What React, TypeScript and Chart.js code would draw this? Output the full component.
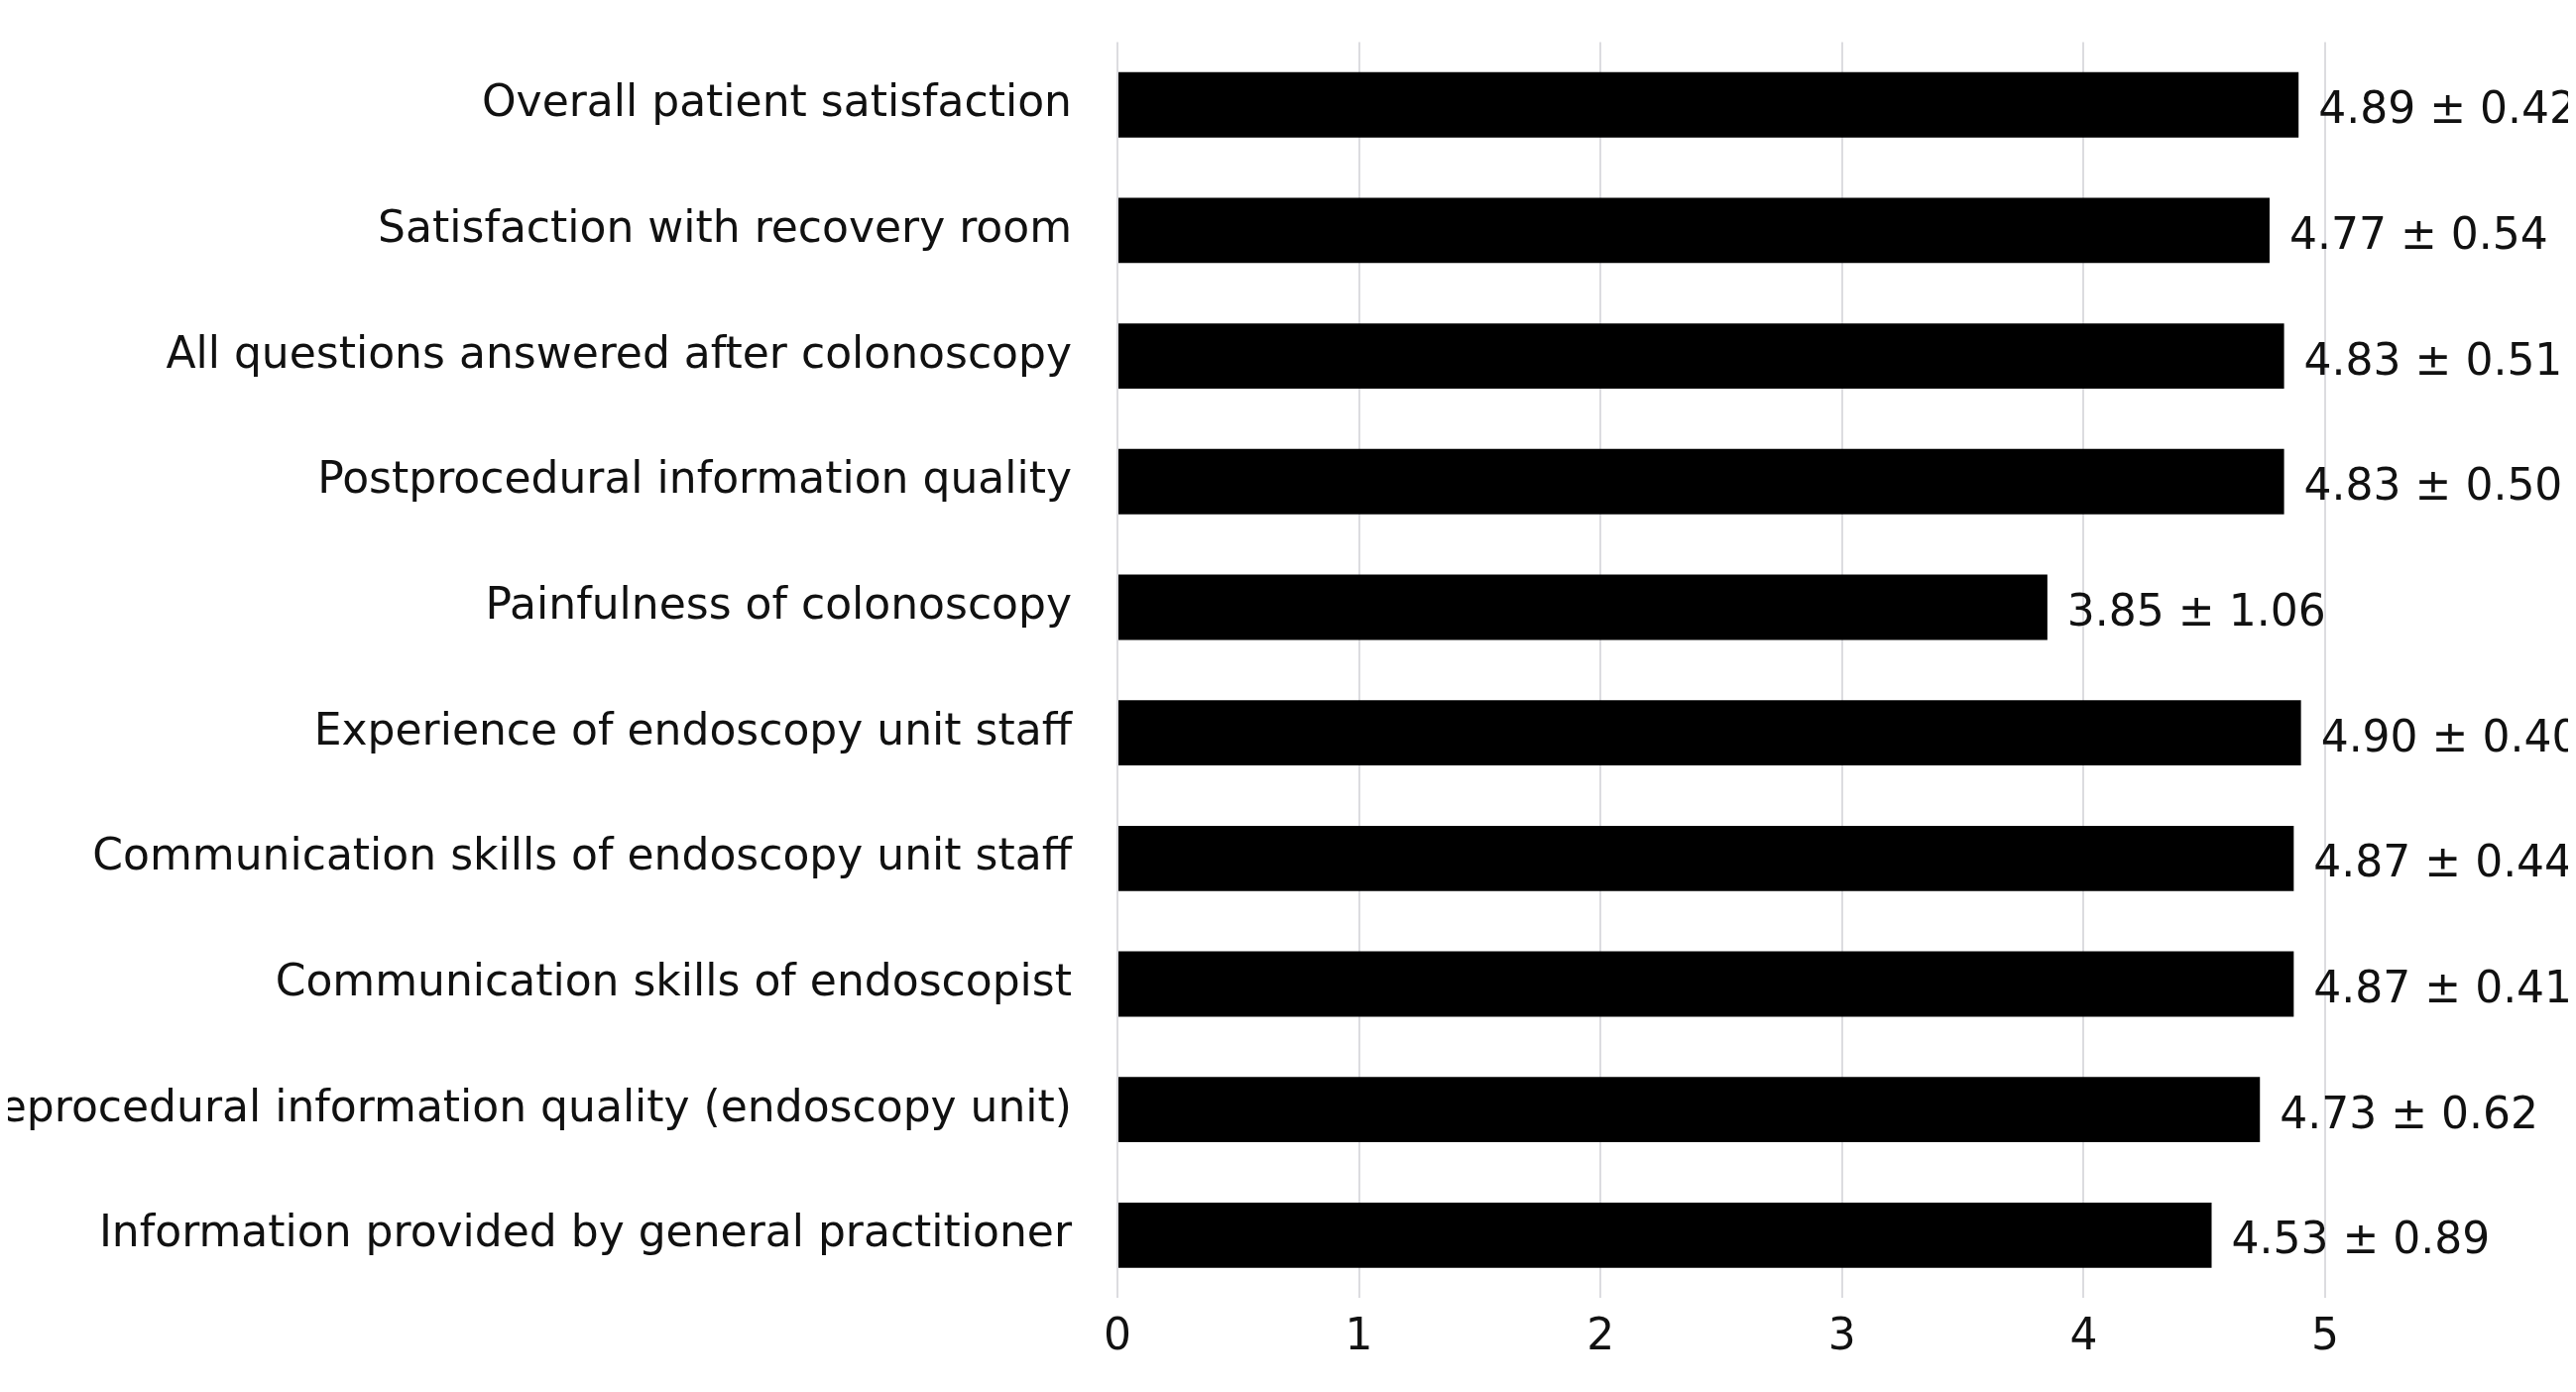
import React, { useEffect, useRef } from "react";
import { Chart, registerables } from "chart.js";
Chart.register(...registerables);

const categories = [
  "Overall patient satisfaction",
  "Satisfaction with recovery room",
  "All questions answered after colonoscopy",
  "Postprocedural information quality",
  "Painfulness of colonoscopy",
  "Experience of endoscopy unit staff",
  "Communication skills of endoscopy unit staff",
  "Communication skills of endoscopist",
  "Preprocedural information quality (endoscopy unit)",
  "Information provided by general practitioner",
];
const means = [4.89, 4.77, 4.83, 4.83, 3.85, 4.9, 4.87, 4.87, 4.73, 4.53];
const sds = ["0.42", "0.54", "0.51", "0.50", "1.06", "0.40", "0.44", "0.41", "0.62", "0.89"];
const xTicks = [0, 1, 2, 3, 4, 5];

const FONT = "'DejaVu Sans', Verdana, sans-serif";

export default function App() {
  const ref = useRef<HTMLCanvasElement>(null);
  useEffect(() => {
    const labelPlugin = {
      id: "valueLabels",
      afterDatasetsDraw(chart: any) {
        const ctx = chart.ctx;
        const meta = chart.getDatasetMeta(0);
        ctx.save();
        ctx.fillStyle = "#111";
        ctx.font = `44px ${FONT}`;
        ctx.textBaseline = "middle";
        ctx.textAlign = "left";
        meta.data.forEach((bar: any, i: number) => {
          ctx.fillText(`${means[i].toFixed(2)} ± ${sds[i]}`, bar.x + 20, bar.y + 7);
        });
        ctx.restore();
      },
    };
    const chart = new Chart(ref.current!, {
      type: "bar",
      data: {
        labels: categories,
        datasets: [
          {
            data: means,
            backgroundColor: "#000",
            barPercentage: 0.52,
            categoryPercentage: 1,
          },
        ],
      },
      options: {
        indexAxis: "y",
        responsive: false,
        animation: false,
        layout: { padding: { top: 0, right: 245, bottom: 8, left: 0 } },
        plugins: { legend: { display: false }, tooltip: { enabled: false } },
        scales: {
          x: {
            min: 0,
            max: 5,
            afterBuildTicks: (axis: any) => {
              axis.ticks = xTicks.map((v) => ({ value: v }));
            },
            grid: { color: "#dcdce0", lineWidth: 2, drawTicks: false },
            border: { display: false },
            ticks: { color: "#111", font: { family: FONT, size: 44 }, padding: 14 },
          },
          y: {
            afterFit: (axis: any) => {
              axis.width = 1119;
            },
            grid: { display: false },
            border: { display: false },
            ticks: { color: "#111", font: { family: FONT, size: 44 }, padding: 38 },
          },
        },
      },
      plugins: [labelPlugin],
    });
    return () => chart.destroy();
  }, []);
  return (
    <canvas
      ref={ref}
      width={2582}
      height={1420}
      style={{ display: "block", marginTop: -30 }}
    />
  );
}
